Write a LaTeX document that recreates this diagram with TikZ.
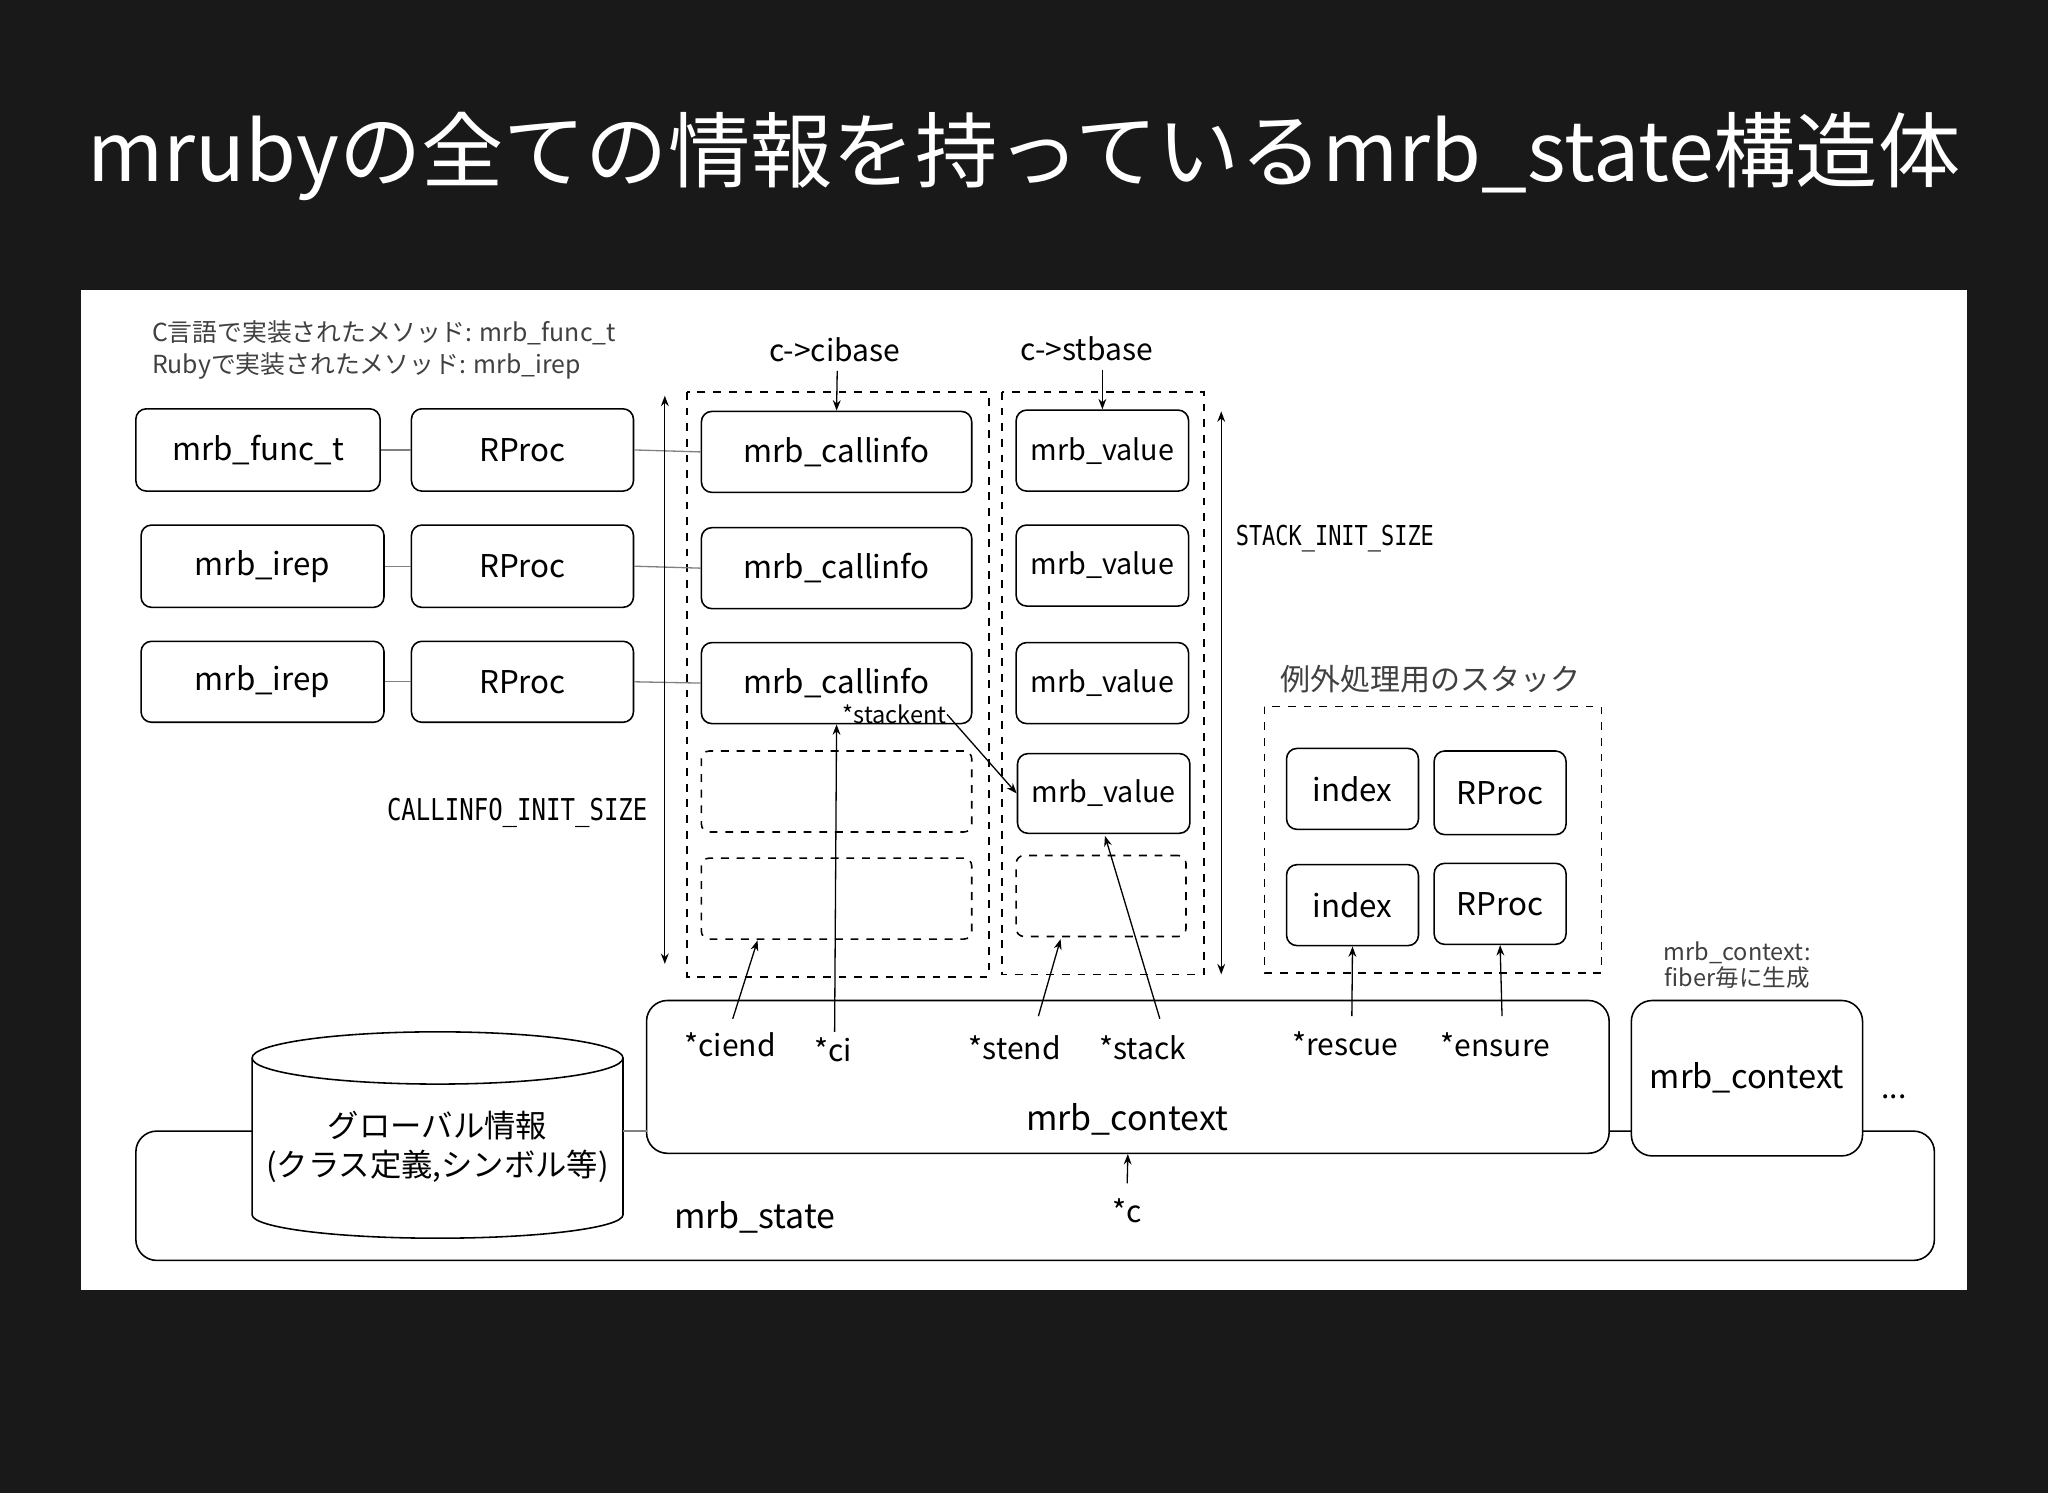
\documentclass[tikz,border=0pt]{standalone}
\usepackage{fontspec}
\setmainfont{Noto Sans CJK JP}
\newfontfamily\mono{DejaVu Sans Mono}
\usetikzlibrary{arrows.meta,shapes.geometric}
\newcommand{\mkbox}[7][]{\node[bx,#1,minimum width={(#5-#3)*0.5pt},minimum height={(#6-#4)*0.5pt}] (#2) at ({(#3+#5)/2},{(#4+#6)/2}) {#7};}
\begin{document}
\begin{tikzpicture}[x=0.5pt,y=-0.5pt,
  bx/.style={draw,rounded corners=4pt,line width=0.6pt,fill=white,inner sep=0pt,font=\fontsize{12}{12}\selectfont},
  dbx/.style={bx,dashed,rounded corners=3pt},
  lbl/.style={inner sep=0pt,font=\fontsize{11.5}{12}\selectfont},
  ar/.style={-{Stealth[length=4pt,width=3pt]},line width=0.5pt},
  conn/.style={draw=gray,line width=0.5pt}]
\fill[black!90] (0,0) rectangle (1568,1143);
\useasboundingbox (0,0) rectangle (1568,1143);
\node[text=white,font=\fontsize{31.5}{32}\selectfont,inner sep=0pt] (title) at (784,120) {mrubyの全ての情報を持っているmrb\_state構造体};
\fill[white] (62,222) rectangle (1506,988);
\node[lbl,anchor=west,align=left,font=\fontsize{9.5}{12.5}\selectfont,text=black!75] (note) at (116,268) {C言語で実装されたメソッド: mrb\_func\_t\\Rubyで実装されたメソッド: mrb\_irep};
% mrb_state
\mkbox[rounded corners=8pt]{state}{104}{866}{1481}{965}{}
\node[lbl,font=\fontsize{13}{13}\selectfont] (statel) at (578,932) {mrb\_state};
% cylinder
\filldraw[fill=white,line width=0.6pt] (193,810) -- (193,930) arc[start angle=180,end angle=360,x radius=142,y radius=-18] -- (477,810) arc[start angle=0,end angle=180,x radius=142,y radius=-20] -- cycle;
\draw[line width=0.6pt] (193,810) arc[start angle=180,end angle=360,x radius=142,y radius=-20];
\node[lbl,align=center,font=\fontsize{12}{15}\selectfont] (glob) at (335,878) {グローバル情報\\(クラス定義,シンボル等)};
% left boxes
\mkbox{ft}{104}{313}{291}{376}{mrb\_func\_t}
\mkbox{rp1}{315}{313}{485}{376}{RProc}
\mkbox{ir1}{108}{402}{294}{465}{mrb\_irep}
\mkbox{rp2}{315}{402}{485}{465}{RProc}
\mkbox{ir2}{108}{491}{294}{553}{mrb\_irep}
\mkbox{rp3}{315}{491}{485}{553}{RProc}
% columns
\draw[dashed,line width=0.6pt] (526,300) rectangle (757,748);
\draw[dashed,line width=0.6pt] (767,300) rectangle (922,746);
\node[lbl] (cib) at (639,268) {c->cibase};
\node[lbl] (stb) at (832,267) {c->stbase};
\mkbox{ci1}{537}{315}{744}{377}{mrb\_callinfo}
\mkbox{ci2}{537}{404}{744}{466}{mrb\_callinfo}
\mkbox{ci3}{537}{492}{744}{554}{mrb\_callinfo}
\mkbox[dbx]{ci4}{537}{575}{744}{637}{}
\mkbox[dbx]{ci5}{537}{657}{744}{719}{}
\mkbox[font=\fontsize{11}{11}\selectfont]{v1}{778}{314}{910}{376}{mrb\_value}
\mkbox[font=\fontsize{11}{11}\selectfont]{v2}{778}{402}{910}{464}{mrb\_value}
\mkbox[font=\fontsize{11}{11}\selectfont]{v3}{778}{492}{910}{554}{mrb\_value}
\mkbox[font=\fontsize{11}{11}\selectfont]{v4}{779}{577}{911}{638}{mrb\_value}
\mkbox[dbx]{v5}{778}{655}{908}{717}{}
\draw[ar] (641,284) coordinate (cibs) -- (ci1.north);
\draw[ar] (844,283) coordinate (stbs) -- (v1.north);
\draw[conn] (ft.east) -- (rp1.west);
\draw[conn] (ir1.east) -- (rp2.west);
\draw[conn] (ir2.east) -- (rp3.west);
\draw[conn] (rp1.east) -- (ci1.west);
\draw[conn] (rp2.east) -- (ci2.west);
\draw[conn] (rp3.east) -- (ci3.west);
% sizes
\coordinate (ca) at (509,303); \coordinate (cb) at (509,738);
\draw[{Stealth[length=4pt,width=3pt]}-{Stealth[length=4pt,width=3pt]},line width=0.5pt] (ca) -- (cb);
\node[lbl,font=\mono\fontsize{11.5}{11.5}\selectfont] (cis) at (396,622) {\scalebox{0.8}[1]{CALLINFO\_INIT\_SIZE}};
\coordinate (sa) at (935,315); \coordinate (sb) at (935,746);
\draw[{Stealth[length=4pt,width=3pt]}-{Stealth[length=4pt,width=3pt]},line width=0.5pt] (sa) -- (sb);
\node[lbl,font=\mono\fontsize{10.5}{10.5}\selectfont] (sis) at (1022,412) {\scalebox{0.8}[1]{STACK\_INIT\_SIZE}};
\node[lbl,font=\fontsize{9}{9}\selectfont] (sent) at (685,547) {*stackent};
\draw[ar] (sent.east) -- (v4.west);
% exception stack
\node[lbl,font=\fontsize{11.5}{12}\selectfont,text=black!75] (exl) at (1095,520) {例外処理用のスタック};
\draw[dashed,line width=0.6pt] (968,541) rectangle (1226,745);
\mkbox{ix1}{985}{573}{1086}{635}{index}
\mkbox{er1}{1098}{575}{1199}{639}{RProc}
\mkbox{ix2}{985}{662}{1086}{724}{index}
\mkbox{er2}{1098}{661}{1199}{723}{RProc}
% context
\mkbox[rounded corners=8pt]{ctx}{495}{766}{1232}{883}{}
\draw[conn] (477,866) -- (495,866);
\node[lbl,font=\fontsize{13}{13}\selectfont] (ctxl) at (863,857) {mrb\_context};
\node[lbl] (ciend) at (559,800) {*ciend};
\node[lbl] (cil) at (638,804) {*ci};
\node[lbl] (stend) at (777,802) {*stend};
\node[lbl] (stack) at (875,802) {*stack};
\node[lbl] (resc) at (1030,799) {*rescue};
\node[lbl] (ens) at (1145,800) {*ensure};
\draw[ar] (561,780) -- (580,720);
\draw[ar] (639,790) -- (ci3.south);
\draw[ar] (795,778) -- (812,719);
\draw[ar] (888,780) -- (846,640);
\draw[ar] (1035,778) -- (ix2.south);
\draw[ar] (1150,778) -- (er2.south);
\node[lbl] (cc) at (863,927) {*c};
\draw[ar] (863,906) -- (ctx.south);
\mkbox[rounded corners=8pt,font=\fontsize{12.5}{12.5}\selectfont]{ctx2}{1249}{766}{1426}{885}{mrb\_context}
\node[lbl,align=center,font=\fontsize{9}{10}\selectfont,text=black!75] (ctx2n) at (1330,739) {mrb\_context:\\fiber毎に生成};
\node[lbl] (dots) at (1450,840) {...};
\end{tikzpicture}
\end{document}
